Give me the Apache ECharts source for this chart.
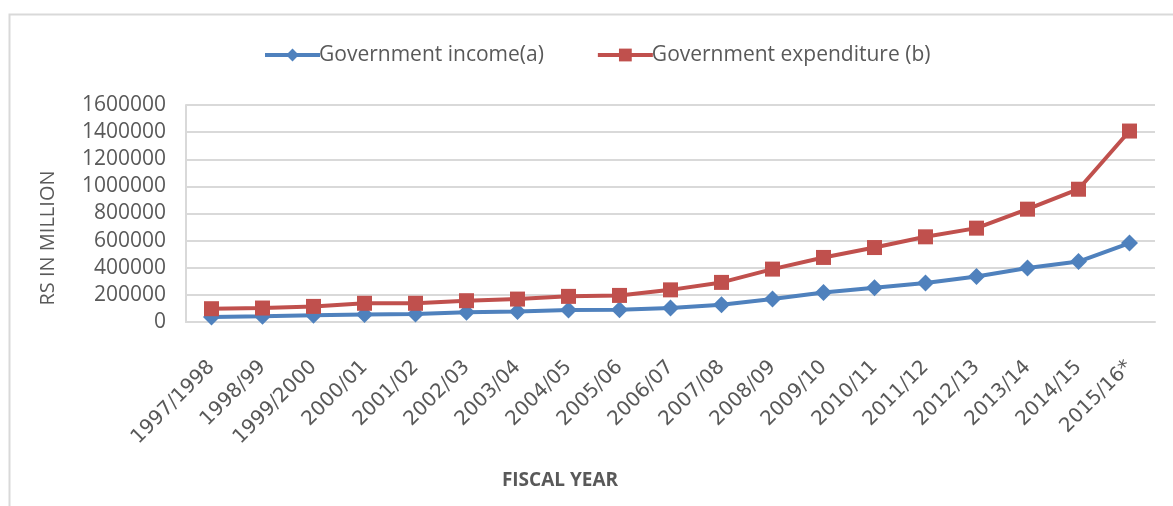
<!DOCTYPE html>
<html>
<head>
<meta charset="utf-8">
<script src="https://cdn.jsdelivr.net/npm/echarts@6/dist/echarts.min.js"></script>
<style>
  html, body { margin: 0; padding: 0; background: #ffffff; }
  #chart { width: 1173px; height: 506px; }
</style>
</head>
<body>
<div id="chart"></div>
<script>
// Fiscal years on the category axis
const fiscalYears = [
  '1997/1998', '1998/99', '1999/2000', '2000/01', '2001/02', '2002/03',
  '2003/04', '2004/05', '2005/06', '2006/07', '2007/08', '2008/09',
  '2009/10', '2010/11', '2011/12', '2012/13', '2013/14', '2014/15', '2015/16*'
];

// Government income (a), Rs in million
const governmentIncome = [
  37000, 42000, 49000, 56000, 59000, 71000, 78000, 88000, 91000, 103000,
  127000, 169000, 218000, 252000, 287000, 336000, 398000, 446000, 582000
];

// Government expenditure (b), Rs in million
const governmentExpenditure = [
  98000, 103000, 115000, 138000, 138000, 157000, 169000, 189000, 196000, 237000,
  292000, 390000, 476000, 549000, 628000, 692000, 832000, 979000, 1408000
];

// Value axis ticks
const yMin = 0;
const yMax = 1600000;
const yStep = 200000;

const FONT = '"Open Sans", "Liberation Sans", sans-serif';
const WIDE_FONT = '"DejaVu Sans", sans-serif';
const TEXT = '#595959';
const GRID_LINE = '#d9d9d9';

const chart = echarts.init(document.getElementById('chart'), null, { renderer: 'canvas' });

chart.setOption({
  animation: false,
  backgroundColor: '#ffffff',
  textStyle: { fontFamily: FONT, color: TEXT },
  graphic: [
    {
      type: 'rect',
      shape: { x: 9.5, y: 14.5, width: 1200, height: 600 },
      style: { fill: 'none', stroke: GRID_LINE, lineWidth: 2 },
      silent: true
    },
    {
      type: 'text',
      x: 48,
      y: 238,
      rotation: Math.PI / 2,
      style: {
        text: 'RS IN MILLION',
        font: '20px ' + FONT,
        fill: TEXT,
        align: 'center',
        verticalAlign: 'middle'
      }
    },
    {
      type: 'text',
      x: 560,
      y: 481,
      style: {
        text: 'FISCAL YEAR',
        font: 'bold 19px ' + FONT,
        fill: TEXT,
        align: 'center',
        verticalAlign: 'middle'
      }
    }
  ],
  legend: {
    left: 258,
    top: 38,
    itemWidth: 55,
    itemHeight: 16,
    itemGap: 52,
    lineStyle: { width: 4 },
    textStyle: {
      fontFamily: FONT,
      fontSize: 21,
      color: TEXT,
      lineHeight: 24,
      padding: [0, 0, 0, -6]
    },
    data: ['Government income(a)', 'Government expenditure (b)']
  },
  grid: {
    left: 186,
    right: 18,
    top: 105,
    bottom: 184,
    containLabel: false,
    outerBoundsMode: 'none'
  },
  xAxis: {
    type: 'category',
    data: fiscalYears,
    boundaryGap: true,
    axisLine: { show: true, lineStyle: { color: GRID_LINE, width: 2 } },
    axisTick: { show: false },
    axisLabel: {
      interval: 0,
      rotate: 45,
      margin: 42,
      fontFamily: WIDE_FONT,
      fontSize: 20,
      color: TEXT
    },
    splitLine: { show: false }
  },
  yAxis: {
    type: 'value',
    min: yMin,
    max: yMax,
    interval: yStep,
    axisLine: { show: true, lineStyle: { color: GRID_LINE, width: 2 } },
    axisTick: { show: false },
    axisLabel: {
      margin: 20,
      fontFamily: FONT,
      fontSize: 21,
      color: TEXT,
      formatter: (v) => String(v)
    },
    splitLine: { show: true, lineStyle: { color: GRID_LINE, width: 2 } }
  },
  series: [
    {
      name: 'Government income(a)',
      type: 'line',
      data: governmentIncome,
      symbol: 'diamond',
      symbolSize: 17,
      showAllSymbol: true,
      itemStyle: { color: '#4F81BD' },
      lineStyle: { color: '#4F81BD', width: 4 }
    },
    {
      name: 'Government expenditure (b)',
      type: 'line',
      data: governmentExpenditure,
      symbol: 'rect',
      symbolSize: 15,
      showAllSymbol: true,
      itemStyle: { color: '#C0504D' },
      lineStyle: { color: '#C0504D', width: 4 }
    }
  ]
});
</script>
</body>
</html>
